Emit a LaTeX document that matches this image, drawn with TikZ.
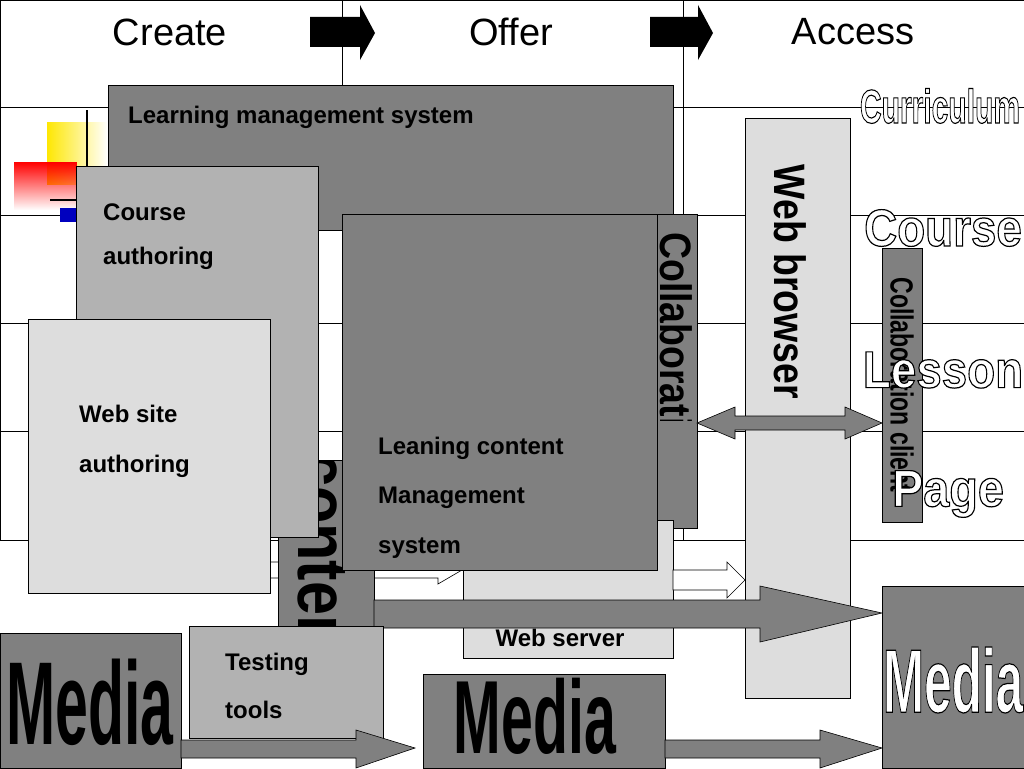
\documentclass[tikz,border=0pt]{standalone}
\usepackage{fontspec}
\setmainfont{Liberation Sans}
\usetikzlibrary{fadings}
\definecolor{dg}{HTML}{808080}
\definecolor{mg}{HTML}{B2B2B2}
\definecolor{lg}{HTML}{DDDDDD}
\tikzset{
 box/.style={draw=black,line width=0.8pt,anchor=north west,inner sep=0pt},
 lbl/.style={anchor=west,font=\bfseries\fontsize{24}{28}\selectfont,inner sep=0pt},
 hdr/.style={font=\fontsize{38}{42}\selectfont,inner sep=0pt},
 big/.style={font=\bfseries\fontsize{#1}{#1}\selectfont,inner sep=0pt},
 grid/.style={draw=black,line width=0.8pt},
 garrow/.style={draw=black,fill=dg,line width=0.6pt},
 warrow/.style={draw=black,fill=white,line width=0.6pt}
}
\newcommand{\bx}[6]{\node[box,fill=#2,minimum width=#5pt,minimum height=#6pt] (#1) at (#3,#4) {};}
\newcommand{\outl}[1]{\special{pdf:literal direct q 2 Tr 1.2 w 0 0 0 RG 1 1 1 rg}#1\special{pdf:literal direct Q}}
\begin{document}
\begin{tikzpicture}[x=1pt,y=-1pt]
\useasboundingbox (0,0) rectangle (1024,768);
% grid
\draw[grid] (0,0) rectangle (1024,540);
\foreach \yy in {107,215,323,431} \draw[grid] (0,\yy) -- (1024,\yy);
\draw[grid] (342,0) -- (342,540);
\draw[grid] (683,0) -- (683,540);
\node[hdr] (h1) at (170,32) {Create};
\node[hdr] (h2) at (511,32) {Offer};
\node[hdr] (h3) at (853,32) {Access};
\fill (310,17) -- (360,17) -- (360,5) -- (375,33) -- (360,60) -- (360,47) -- (310,47) -- cycle;
\fill (650,17) -- (698,17) -- (698,5) -- (713,33) -- (698,60) -- (698,47) -- (650,47) -- cycle;
% decoration
\fill[yellow!90!orange,path fading=east] (47,122) rectangle (107,185);
\fill[red,path fading=south] (14,162) rectangle (77,210);
\fill[blue!75!black] (60,208) rectangle (77,222);
\draw[line width=2.5pt] (87,110) -- (87,200);
\draw[line width=2.5pt] (50,200) -- (80,200);
% right labels
\node[big=50,xscale=0.6,yscale=0.95] (cur) at (940,106) {\outl{Curriculum}};
\node[big=52,xscale=0.88] (crs) at (943,228) {\outl{Course}};
% LMS
\bx{lms}{dg}{108}{85}{565}{145}
\node[lbl] (lmst) at (128,117) {Learning management system};
% collaboration
\bx{col}{dg}{463}{214}{234}{314}
\begin{scope}
\clip (655,230) rectangle (697,420);
\node[big=44,rotate=-90,anchor=west,xscale=0.85] (colt) at (676,232) {Collaboration};
\end{scope}
% web server
\bx{ws}{lg}{463}{520}{210}{138}
\node[big=24,font=\bfseries\fontsize{24}{28}\selectfont] (wst) at (560,638) {Web server};
% white arrows
\draw[warrow] (673,570) -- (727,570) -- (727,562) -- (745,580) -- (727,598) -- (727,590) -- (673,590) -- cycle;
\draw[warrow] (270,562) -- (442,562) -- (442,555) -- (462,570) -- (438,584) -- (438,578) -- (270,578) -- cycle;
% web browser
\bx{wb}{lg}{745}{118}{105}{580}
\node[big=44,rotate=-90,xscale=0.85] (wbt) at (790,282) {Web browser};
% collab client
\bx{cc}{dg}{882}{248}{40}{274}
\node[big=32,rotate=-90,xscale=0.72] (cct) at (902,385) {Collaboration client};
\node[big=52,xscale=0.88] (les) at (943,370) {\outl{Lesson}};
\node[big=52,xscale=0.9] (pag) at (948,494) {\outl{Page}};
% double arrow
\draw[garrow] (697,423) -- (735,407) -- (735,416) -- (845,416) -- (845,407) -- (882,423) -- (845,439) -- (845,430) -- (735,430) -- (735,439) -- cycle;
% content
\bx{cnt}{dg}{278}{460}{96}{182}
\begin{scope}
\clip (278,460) rectangle (374,642);
\node[big=72,rotate=-90,anchor=west,xscale=0.85] (cntt) at (322,452) {content};
\end{scope}
% course authoring
\bx{ca}{mg}{76}{166}{242}{371}
\node[lbl] (cat1) at (103,212) {Course};
\node[lbl] (cat2) at (103,258) {authoring};
% web site authoring
\bx{wsa}{lg}{28}{319}{242}{274}
\node[lbl] (wsa1) at (79,414) {Web site};
\node[lbl] (wsa2) at (79,466) {authoring};
% LCMS
\bx{lcms}{dg}{342}{214}{315}{356}
\node[lbl] (l1) at (378,448) {Leaning content};
\node[lbl] (l2) at (378,498) {Management};
\node[lbl] (l3) at (378,548) {system};
% big arrow
\draw[garrow] (374,600) -- (760,600) -- (760,586) -- (882,613) -- (760,642) -- (760,628) -- (374,628) -- cycle;
% testing tools
\bx{tt}{mg}{189}{626}{194}{112}
\node[lbl] (tt1) at (225,664) {Testing};
\node[lbl] (tt2) at (225,710) {tools};
% media
\bx{m1}{dg}{0}{633}{181}{135}
\node[big=118,xscale=0.5] (m1t) at (90,702) {Media};
\bx{m2}{dg}{423}{674}{242}{94}
\node[big=104,xscale=0.55,anchor=north] (m2t) at (535,678) {Media};
\bx{m3}{dg}{882}{586}{142}{182}
\node[big=90,xscale=0.55] (m3t) at (953,680) {\outl{Media}};
% bottom arrows
\draw[garrow] (181,740) -- (356,740) -- (356,730) -- (415,748) -- (356,768) -- (356,758) -- (181,758) -- cycle;
\draw[garrow] (665,740) -- (820,740) -- (820,730) -- (882,748) -- (820,768) -- (820,758) -- (665,758) -- cycle;
\end{tikzpicture}
\end{document}
